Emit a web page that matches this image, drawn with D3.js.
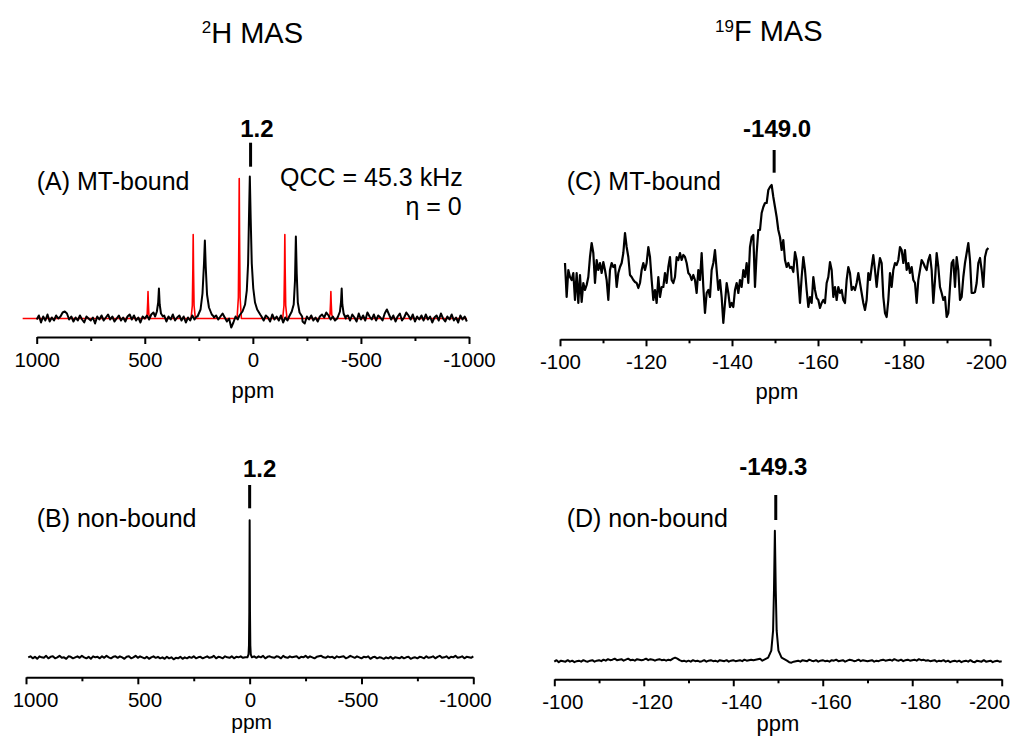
<!DOCTYPE html>
<html>
<head>
<meta charset="utf-8">
<script src="https://d3js.org/d3.v7.min.js"></script>
<style>
  body { margin: 0; background: #fff; }
  svg text { font-family: "Liberation Sans", Arial, sans-serif; fill: #000; }
</style>
</head>
<body>
<div id="my_dataviz"></div>
<script>
// ---------- data ----------
// axis ticks
var hMajor = [1000, 500, 0, -500, -1000];
var hMinor = [750, 250, -250, -750];
var fMajor = [-100, -120, -140, -160, -180, -200];
var fMinor = [-110, -130, -150, -170, -190];

// (A) 2H MT-bound, black = experiment. baseline noise every 10 ppm from 1000 ppm
var aNoiseStart = 1000, aNoiseStep = -10;
var aNoise = [
  -1,3,-4,2,-2,4,-3,1,-2,3,   0,2,6,7,5,-1,2,-3,1,-2,
  3,-1,-4,2,0,-2,1,-5,2,-1,   3,-2,1,4,-1,2,-3,0,3,-2,
  1,-3,2,4,-1,3,-2,1,-4,2,    0,3,-1,4,6,3,0,0,-2,3,
  -3,2,-1,4,-2,1,3,-2,2,-4,   1,-2,3,-1,2,-3,0,0,0,0,
  -2,4,1,3,-1,2,5,1,-3,0,     -9,-4,2,-1,0,0,0,0,0,0,
  0,0,0,0,2,-2,3,1,-3,4,      -1,2,-2,3,-4,1,-2,0,0,0,
  0,0,0,-3,-5,2,-1,3,-2,1,    -3,2,4,1,6,3,-1,2,-2,0,
  0,0,0,0,3,-2,4,1,-3,5,      -1,3,-2,6,2,-1,4,-2,3,1,
  -2,5,9,4,-1,3,-3,2,5,-2,    1,6,3,-1,4,-3,2,-1,3,-2,
  4,-1,2,-4,1,3,-2,5,0,-3,    2,-1,4,-2,1,-4,3,-1,2,-3
];
// black peaks: [ppm, intensity] points
var aPeaks = [
  [[452,2],[444,7],[438,16],[434.5,30],[431,14],[425,5],[416,2]],
  [[256,2],[242,9],[233,25],[226,55],[222,78],[218,52],[212,24],[203,11],[190,4],[181,2]],
  [[62,3],[48,7],[36,14],[28,28],[22,55],[18,100],[14,142],[10,100],[5,55],[-2,30],[-10,16],[-20,9],[-34,4]],
  [[-168,2],[-180,7],[-189,14],[-195,38],[-199,82],[-203,45],[-208,16],[-216,6],[-228,2]],
  [[-394,2],[-403,7],[-408,17],[-411,30],[-414,14],[-420,5],[-430,2]]
];
// red = simulation (QCC 45.3 kHz, eta 0)
var aSimEnds = [[1065,0],[-990,0]];
var aSimPeaks = [
  [[495,0],[489,4],[486.5,16],[485,27],[483.5,16],[481,4],[475,0]],
  [[286,0],[280,13],[277.5,50],[276,84],[274.5,50],[272,13],[266,0]],
  [[73,0],[67,21],[64.5,84],[63,140],[61.5,84],[59,21],[53,0]],
  [[-138,0],[-144,13],[-146.5,50],[-148,84],[-149.5,50],[-152,13],[-158,0]],
  [[-351,0],[-357,4],[-359.5,16],[-361,27],[-362.5,16],[-365,4],[-371,0]]
];

// (B) 2H non-bound. noise every 10 ppm from 990 ppm
var bNoiseStart = 990, bNoiseStep = -10;
var bNoise = [
  0,1,-1,0.5,-1.5,1,0,-0.5,1.5,-1,      0.5,1,-1,0,1.5,-0.5,0,-1.5,1,0.5,
  -1,0,1,-0.5,1.5,0,-1,0.5,-1.5,1,      0,0.5,-1,1,-0.5,1.5,0,-1,0.5,1,
  -0.5,1,0,-1.5,0.5,1,-1,0,1.5,-0.5,    1,0,-1,0.5,-1.5,0,1,-0.5,0.5,-1,
  0,-1.5,0.5,-1,0,-2,-0.5,-1,0.5,-1.5,  0,-1,0.5,-0.5,1,-1,0,0.5,-1,0,
  1,-0.5,0,1.5,-1,0.5,0,-1,1,0,         -0.5,1,-1,0.5,0,1,-0.5,0,0,0,
  0,1,-0.5,1,0,1.5,-1,0.5,1,0,          -0.5,1,0.5,-1,1.5,0,-0.5,1,0,0.5,
  1,-1,0.5,0,1.5,-0.5,1,0,-1,0.5,       1,1.5,0,-0.5,1,0,0.5,-1,1,0,
  0.5,1,-1,0,1.5,0.5,-0.5,1,0,-1,       0.5,0,1,-1.5,0,0.5,-1,0,-0.5,-1.5,
  0,-1,0.5,-1.5,0,-0.5,-1,0.5,-1,0,     0.5,-1.5,-0.5,0,-1,0.5,0,-1,1,-0.5,
  0,1,-1,0.5,1.5,-0.5,0,1,-1,0.5,       0,1.5,-0.5,0,1,-1,0.5,0,-0.5,1
];
var bPeaks = [
  [[10,0],[5,3],[3,12],[1.5,45],[0,137],[-1.5,45],[-3,12],[-5,3],[-10,0]]
];

// (C) 19F MT-bound, trace read every 0.388 ppm from -101.16 ppm
var cStart = -101.16, cStep = -0.3876;
var cTrace = [
  67,33,60,53,50,57,30,57,27,55,  28,47,40,45,53,73,87,77,47,70,
  60,67,57,68,60,50,30,60,67,63,  65,43,57,63,67,77,97,83,73,55,
  53,50,48,47,42,47,60,67,60,67,  83,73,50,30,40,27,53,33,43,43,
  57,47,63,73,50,47,53,73,70,77,  70,75,73,67,57,55,50,55,50,37,
  60,50,77,43,17,37,40,33,60,67,  80,60,40,50,33,7,27,47,37,23,
  27,23,40,47,37,50,43,60,53,67,  47,83,93,95,43,77,100,100,117,123,
  127,127,140,143,145,
  133,123,113,100,93,80,90,70,63,67,  62,63,58,78,70,50,27,53,73,60,
  40,23,33,27,53,40,32,30,22,27,      30,27,47,53,68,60,33,43,30,43,
  37,40,30,27,50,63,57,40,43,40,      47,57,47,37,27,20,30,57,50,63,
  75,60,43,60,72,67,33,17,13,30,      57,43,60,67,65,70,83,80,67,80,
  60,67,57,63,50,47,27,50,60,70,      67,63,60,70,75,60,27,50,77,63,
  43,37,30,33,13,17,43,67,70,43,      73,60,30,33,53,67,77,87,70,37,
  37,38,47,67,72,60,43,73,80,82
];

// (D) 19F non-bound, noise every 0.5 ppm from -100 ppm
var dNoiseStart = -100, dNoiseStep = -0.5;
var dNoise = [
  -1,0.5,-1.5,0,-0.5,-1,0.5,-1,0,-1.5,   -0.5,0,-1,0.5,-0.5,-1,0,0.5,-1,0,
  0.5,-0.5,1,0,1.5,0.5,1,2,0.5,1,        1.5,0,1,2,0.5,1,0,1.5,1,0.5,
  1,2,0.5,1.5,1,0,1,1.5,0.5,1,           0,1,0.5,2,3,2,0.5,-0.5,0,-1,
  0,-1,0.5,-0.5,0,-1,-0.5,0.5,-1,0,      0.5,-0.5,0,-1,0.5,0,-0.5,0.5,-1,0,
  0.5,-0.5,0,0.5,-0.5,1,0,0.5,1,0.5,     1,1.5,2,0,0,0,0,0,0,0,
  0,0,0,0,0,-1.5,-2,-1,-0.5,0,           -1,0.5,0,-0.5,1,0,-0.5,0.5,-1,0,
  0.5,-0.5,0,-1,0.5,0,1,-0.5,0,0.5,      -1,0,1,0.5,-0.5,0,1,-0.5,0.5,0,
  -0.5,0,0.5,-1,0,-0.5,0.5,1,0,0.5,      1,0,1.5,0.5,0,1,-0.5,0.5,1,0,
  0.5,1,0,1.5,0.5,1,0,0.5,-0.5,0,        0.5,-1,0,-0.5,0.5,-1,0,-1.5,-0.5,0,
  -1,0,-1.5,-0.5,0,-1,0.5,-1,-1.5,0,     -0.5,-1,0.5,-1,-0.5,0,-1.5,-0.5,0,-1,
  -0.5
];
var dPeaks = [
  [[-146.5,0],[-147.8,3],[-148.5,10],[-148.9,30],[-149.1,70],[-149.3,130],[-149.5,70],[-149.7,30],[-150.1,10],[-150.8,3],[-152,0]]
];

// peak annotations
var shiftLabels = {A: "1.2", B: "1.2", C: "-149.0", D: "-149.3"};
var markPpm = {A: 10.5, B: 0, C: -149.8, D: -149.5};

// ---------- drawing ----------
var width = 1011, height = 740;
var svg = d3.select("#my_dataviz").append("svg")
  .attr("width", width).attr("height", height);

// sampled noise + explicit peak points, ordered high ppm -> low ppm
function buildTrace(start, step, noise, peaks) {
  var pts = noise.map(function(v, i) { return [start + i * step, v]; });
  pts = pts.filter(function(p) {
    return !peaks.some(function(pk) { return p[0] < pk[0][0] && p[0] > pk[pk.length - 1][0]; });
  });
  peaks.forEach(function(pk) { pts = pts.concat(pk); });
  return pts.sort(function(a, b) { return b[0] - a[0]; });
}

function drawAxis(x, y0, major, minor, labelX) {
  var ax = svg.append("g")
    .attr("transform", "translate(0," + y0 + ")")
    .call(d3.axisBottom(x).tickValues(major).tickSize(7).tickSizeOuter(0)
      .tickFormat(function(d) { return String(d); }));
  // axis() sets its own font, override after the call
  ax.attr("font-size", 20.5).attr("font-family", "Liberation Sans, Arial, sans-serif");
  ax.select(".domain").attr("stroke-width", 2);
  ax.selectAll(".tick line").attr("stroke-width", 2);
  ax.selectAll(".tick text").attr("y", 30).attr("dy", 0)
    .attr("x", function(d) { return labelX ? labelX(d) - x(d) : 0; });

  var mi = svg.append("g")
    .attr("transform", "translate(0," + y0 + ")")
    .call(d3.axisBottom(x).tickValues(minor).tickSize(4).tickFormat(""));
  mi.select(".domain").remove();
  mi.selectAll(".tick line").attr("stroke-width", 2);
}

function drawLine(pts, x, y, color, w) {
  svg.append("path")
    .datum(pts)
    .attr("fill", "none")
    .attr("stroke", color)
    .attr("stroke-width", w)
    .attr("stroke-linejoin", "round")
    .attr("d", d3.line().x(function(d) { return x(d[0]); }).y(function(d) { return y(d[1]); }));
}

function label(txt, x, y, size, anchor, weight) {
  svg.append("text").attr("x", x).attr("y", y)
    .attr("font-size", size)
    .attr("text-anchor", anchor || "start")
    .attr("font-weight", weight || "normal")
    .text(txt);
}

function marker(key, x, y1, y2, dx, ty) {
  svg.append("line")
    .attr("x1", x(markPpm[key])).attr("x2", x(markPpm[key]))
    .attr("y1", y1).attr("y2", y2)
    .attr("stroke", "#000").attr("stroke-width", 3);
  label(shiftLabels[key], x(markPpm[key]) + dx, ty, 24, "middle", "bold");
}

// titles
var t1 = svg.append("text").attr("x", 201.7).attr("y", 42.7).attr("font-size", 29);
t1.append("tspan").attr("font-size", 17).attr("dy", -9.4).text("2");
t1.append("tspan").attr("dy", 9.4).text("H MAS");
var t2 = svg.append("text").attr("x", 715).attr("y", 41).attr("font-size", 29);
t2.append("tspan").attr("font-size", 17).attr("dy", -9.4).text("19");
t2.append("tspan").attr("dy", 9.4).text("F MAS");

// ---- (A) ----
var xA = d3.scaleLinear().domain([1000, -1000]).range([36.7, 469]);
var yA = d3.scaleLinear().domain([0, 142]).range([318.5, 176.5]);
drawLine(buildTrace(0, 0, [], aSimPeaks).concat(aSimEnds).sort(function(a, b) { return b[0] - a[0]; }),
  xA, yA, "#ff0000", 1.6);
drawLine(buildTrace(aNoiseStart, aNoiseStep, aNoise, aPeaks), xA, yA, "#000", 2);
drawAxis(xA, 337, hMajor, hMinor);
label("ppm", xA(0), 398, 22, "middle");
label("(A) MT-bound", 36.7, 190, 25);
label("QCC = 45.3 kHz", 462.7, 186, 25, "end");
label("\u03b7 = 0", 461.7, 215, 25, "end");
marker("A", xA, 142.7, 166.7, 6.3, 136.7);

// ---- (B) ----
var xB = d3.scaleLinear().domain([1000, -1000]).range([26, 473.3]);
var yB = d3.scaleLinear().domain([0, 137]).range([657.3, 520.3]);
var xBlabel = d3.scaleLinear().domain([1000, -1000]).range([35, 465]);
drawLine(buildTrace(bNoiseStart, bNoiseStep, bNoise, bPeaks), xB, yB, "#000", 2);
drawAxis(xB, 677.3, hMajor, hMinor, function(d) { return xBlabel(d) + (d === 500 ? 2 : 0); });
label("ppm", xB(0) + 2, 729, 21, "middle");
label("(B) non-bound", 36.7, 527.3, 25);
marker("B", xB, 485, 508.3, 10, 476.7);

// ---- (C) ----
var xC = d3.scaleLinear().domain([-100, -200]).range([560, 990]);
var yC = d3.scaleLinear().domain([0, 145]).range([330, 185]);
drawLine(cTrace.map(function(v, i) { return [cStart + i * cStep, v]; }), xC, yC, "#000", 2.2);
drawAxis(xC, 339.3, fMajor, fMinor, function(d) { return d === -200 ? xC(d) - 4 : xC(d); });
label("ppm", 777, 399, 22, "middle");
label("(C) MT-bound", 566.7, 190, 25);
marker("C", xC, 150, 172.7, 3, 136.7);

// ---- (D) ----
var xD = d3.scaleLinear().domain([-100, -200]).range([554.3, 1001.7]);
var yD = d3.scaleLinear().domain([0, 130]).range([660.7, 530.7]);
drawLine(buildTrace(dNoiseStart, dNoiseStep, dNoise, dPeaks), xD, yD, "#000", 2);
// the last label sits pulled in from the right edge
drawAxis(xD, 679.3, fMajor, fMinor, function(d) { return d === -200 ? 989 : xD(d) + 8; });
label("ppm", 778, 731, 22, "middle");
label("(D) non-bound", 566.7, 527.3, 25);
marker("D", xD, 495, 520, -2.4, 475);
</script>
</body>
</html>
